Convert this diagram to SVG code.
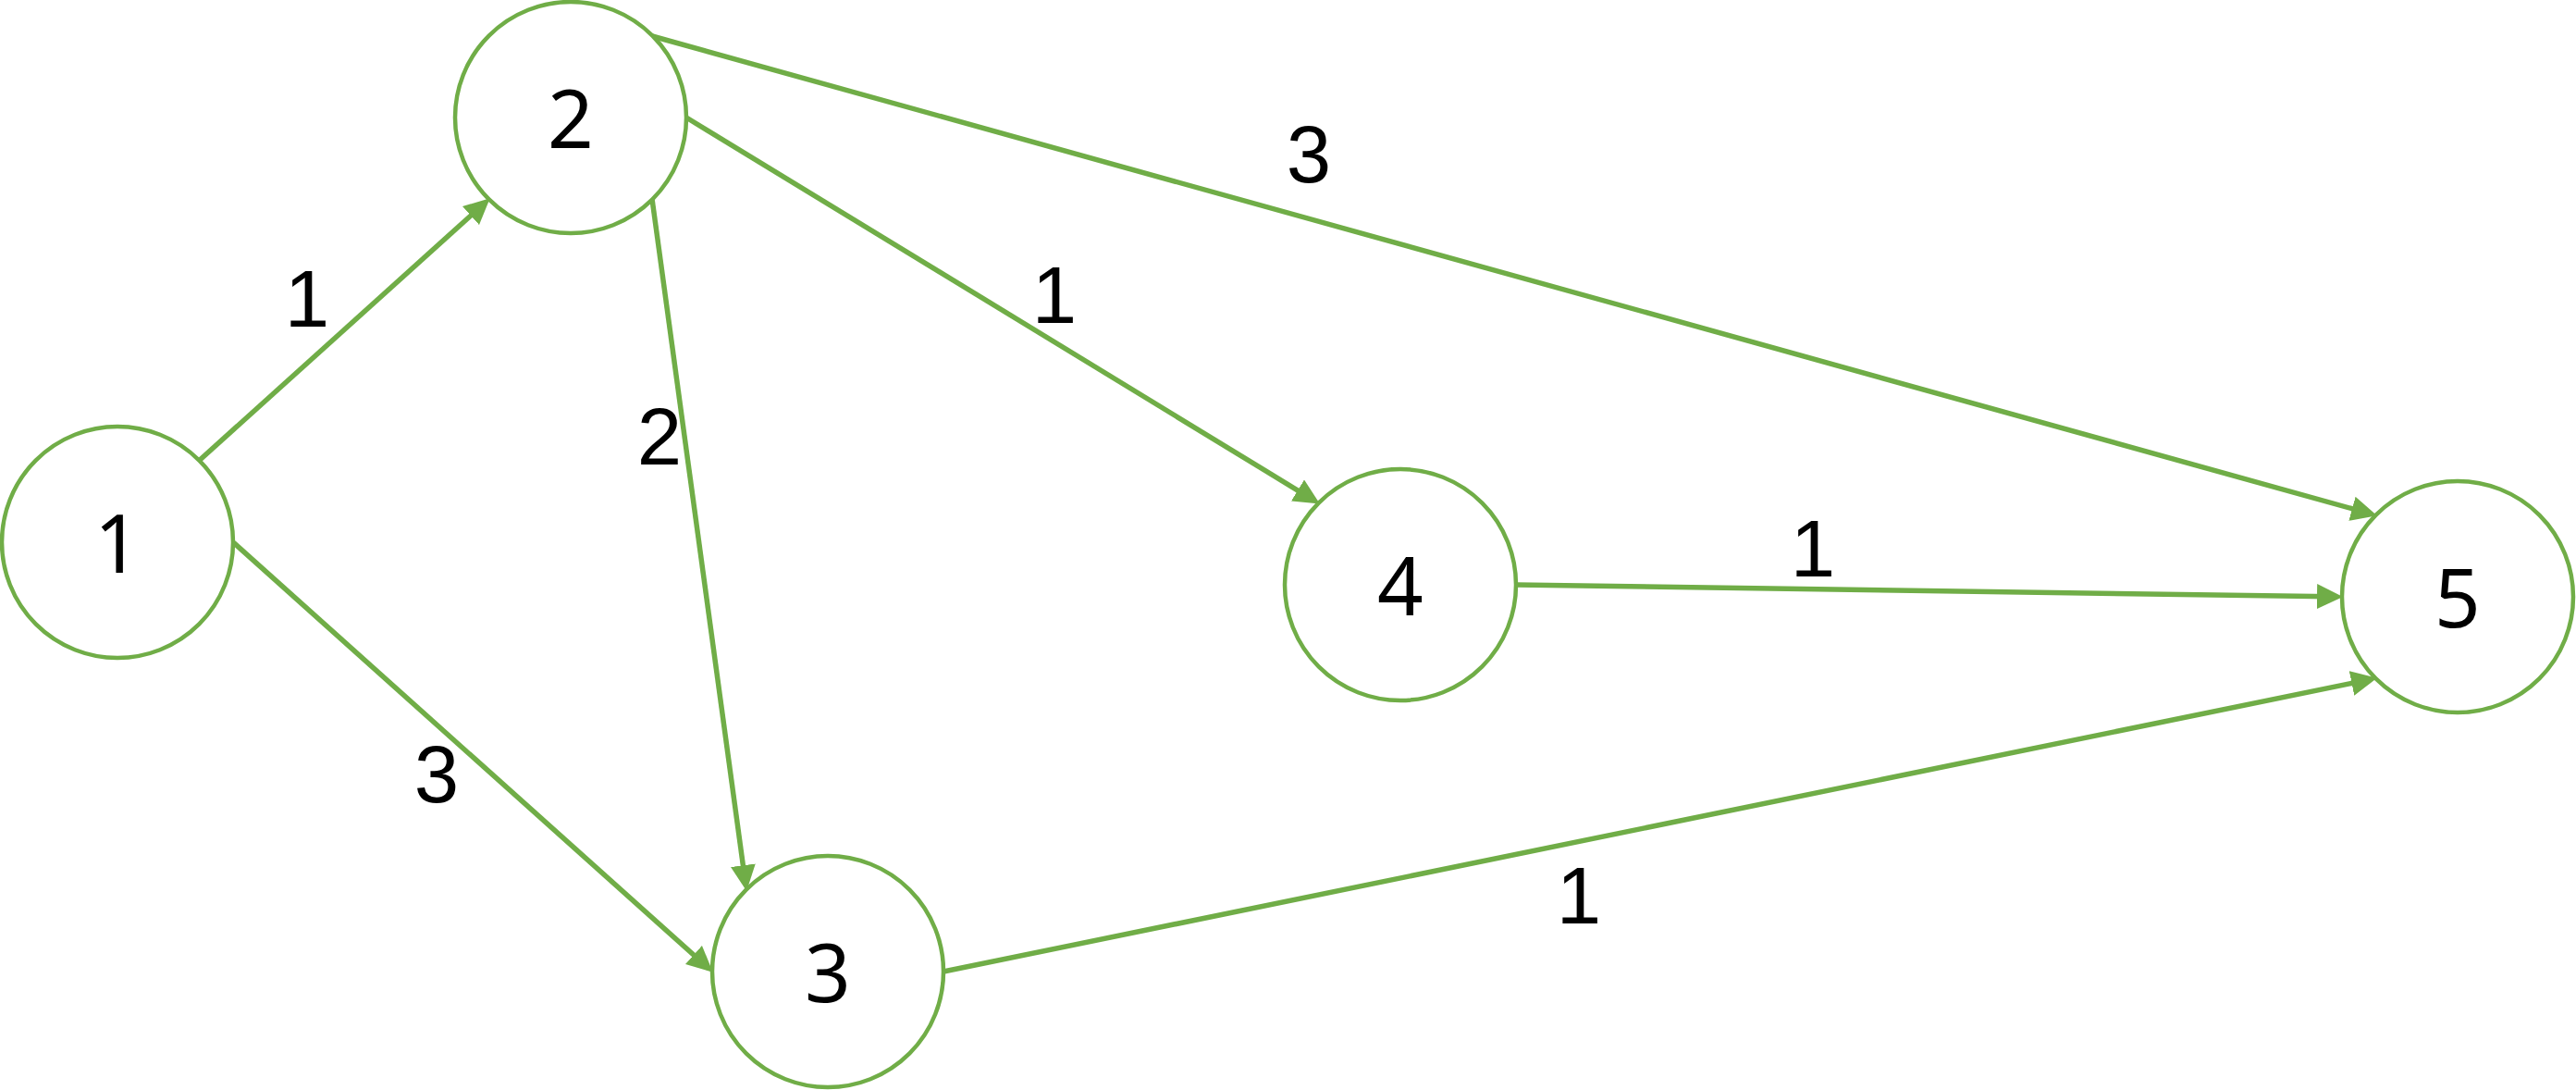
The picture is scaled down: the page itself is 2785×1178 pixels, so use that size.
<svg xmlns="http://www.w3.org/2000/svg" width="2785" height="1178" viewBox="0 0 2785 1178">
<style>
.node{fill:#ffffff;stroke:#70AD47;stroke-width:4.5}
.edge{fill:none;stroke:#70AD47;stroke-width:5.5;marker-end:url(#arr)}
.nt{font-family:"Noto Sans","Open Sans","DejaVu Sans",sans-serif;font-size:87px;fill:#000000;text-anchor:middle}
.et{font-family:"Liberation Sans",Arial,sans-serif;font-size:87px;fill:#000000;text-anchor:middle}
</style>
<defs>
<marker id="arr" markerUnits="userSpaceOnUse" markerWidth="28" markerHeight="27" viewBox="0 0 28 27" refX="15" refY="13.5" orient="auto">
<path d="M0,0 L28,13.5 L0,27 z" fill="#70AD47"/>
</marker>
</defs>
<rect width="2785" height="1178" fill="#ffffff"/>
<g id="connectors">
<line class="edge" x1="215" y1="498" x2="520.1" y2="223"/>
<line class="edge" x1="252" y1="586" x2="761.1" y2="1042"/>
<line class="edge" x1="705" y1="215" x2="805.4" y2="950.1"/>
<line class="edge" x1="742" y1="127" x2="1415.8" y2="537.8"/>
<line class="edge" x1="705" y1="39" x2="2557.4" y2="553.8"/>
<line class="edge" x1="1639" y1="632" x2="2520" y2="644.8"/>
<line class="edge" x1="1020" y1="1050" x2="2557.2" y2="735.4"/>
<text class="et" x="332" y="353">1</text>
<text class="et" x="472" y="867">3</text>
<text class="et" x="713" y="502">2</text>
<text class="et" x="1140" y="349">1</text>
<text class="et" x="1415" y="197">3</text>
<text class="et" x="1960" y="623">1</text>
<text class="et" x="1707" y="998">1</text>
</g>
<g id="node1"><circle class="node" cx="127" cy="586" r="125"/><text class="nt" x="127" y="619">1</text></g>
<g id="node2"><circle class="node" cx="617" cy="127" r="125"/><text class="nt" x="617" y="160">2</text></g>
<g id="node3"><circle class="node" cx="895" cy="1050" r="125"/><text class="nt" x="895" y="1083">3</text></g>
<g id="node4"><circle class="node" cx="1514" cy="632" r="125"/><text class="nt" x="1514" y="665">4</text></g>
<g id="node5"><circle class="node" cx="2657" cy="645" r="125"/><text class="nt" x="2657" y="678">5</text></g>
</svg>
